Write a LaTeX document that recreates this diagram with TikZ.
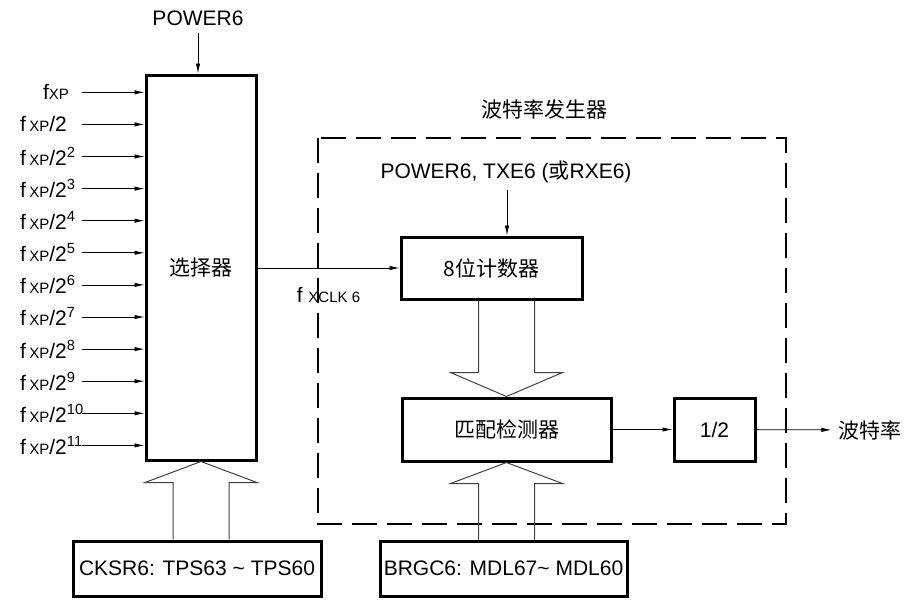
\documentclass[tikz,border=0pt]{standalone}
\usepackage{fontspec}
\setmainfont{Liberation Sans}
\newfontfamily\cjk{Noto Sans CJK SC}
\usetikzlibrary{arrows.meta,calc}

\newcommand{\sm}[1]{{\fontsize{7.5}{9}\selectfont #1}}

\begin{document}
\begin{tikzpicture}[x=0.5pt,y=-0.5pt,font=\fontsize{10.5}{12}\selectfont,
  >={Latex[length=5pt,width=2.2pt]},
  blk/.style={draw, line width=1.5pt, inner sep=0pt},
  fat/.style={draw=black!75, line width=0.5pt},
  gen/.style={draw, line width=1.2pt, dash pattern=on 12.5pt off 5pt}]
 \useasboundingbox (0,0) rectangle (907,607);
 % blocks
 \node[blk, minimum width=55pt, minimum height=192.5pt] (sel) at (201,267.5) {\cjk 选择器};
 \node[blk, minimum width=90.5pt, minimum height=31pt] (cnt) at (491.5,268) {\cjk 8位计数器};
 \node[blk, minimum width=104.5pt, minimum height=31.5pt] (mat) at (506.5,429.5) {\cjk 匹配检测器};
 \node[blk, minimum width=40.5pt, minimum height=31.5pt] (half) at (714.5,429.5) {1/2};
 \node[blk, minimum width=124pt, minimum height=27.5pt] (cksr) at (197,568.5) {CKSR6: TPS63 \textasciitilde{} TPS60};
 \node[blk, minimum width=123.5pt, minimum height=27.5pt] (brgc) at (503.5,568.5) {BRGC6: MDL67\textasciitilde{} MDL60};
 % baud rate generator
 \draw[gen] (318,138) rectangle (786,524);
 \node (gen) at (544,109) {\cjk 波特率发生器};
 % selector inputs
 \node (pw) at (198,18) {POWER6};
 \draw[->] (pw) -- (pw |- sel.north);
 \node[anchor=west] (l0) at (36,92.3) {f\sm{XP}};
 \coordinate (s0) at (82,92.3);
 \draw[->] (s0) -- (s0 -| sel.west);
 \foreach \i/\e in {1/,2/2,3/3,4/4,5/5,6/6,7/7,8/8,9/9,10/10,11/11} {
   \node[anchor=west] (l\i) at (13,92.3+32.1*\i) {f\,\sm{XP}/2\textsuperscript{\e}};
   \coordinate (s\i) at (82,92.3+32.1*\i);
   \draw[->] (s\i) -- (s\i -| sel.west);
 }
 % clock to counter
 \draw[->] (sel.east |- cnt.west) -- (cnt.west) node[pos=0.5, below=6pt] {f \sm{XCLK 6}};
 \node (en) at (506,172) {POWER6, TXE6 ({\cjk 或}RXE6)};
 \draw[->] (en.south -| 507,0) -- (507,0 |- cnt.north);
 % wide arrows
 \coordinate (ca) at ($(mat.north)+(-28,0)$);
 \coordinate (cb) at ($(mat.north)+(28,0)$);
 \draw[fat] (ca |- cnt.south) -- ($(ca)+(0,-24)$) -- ++(-28,0) -- (mat.north) -- ++(56,-24) -- ++(-28,0) -- (cb |- cnt.south);
 \coordinate (sa) at ($(sel.south)+(-28,0)$);
 \coordinate (sb) at ($(sel.south)+(28,0)$);
 \draw[fat] (sa |- cksr.north) -- ($(sa)+(0,21)$) -- ++(-28,0) -- (sel.south) -- ++(56,21) -- ++(-28,0) -- (sb |- cksr.north);
 \coordinate (ma) at ($(mat.south)+(-28,0)$);
 \coordinate (mb) at ($(mat.south)+(28,0)$);
 \draw[fat] (ma |- brgc.north) -- ($(ma)+(0,21)$) -- ++(-28,0) -- (mat.south) -- ++(56,21) -- ++(-28,0) -- (mb |- brgc.north);
 % output
 \draw[->] (mat) -- (half);
 \node (out) at (870,430) {\cjk 波特率};
 \draw[->] (half) -- (out);
\end{tikzpicture}
\end{document}
